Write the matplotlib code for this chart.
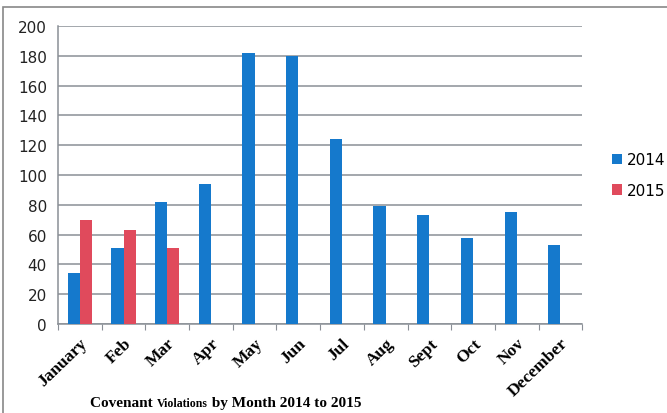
import numpy as np
import matplotlib
matplotlib.use('Agg')
import matplotlib.pyplot as plt
from matplotlib.patches import Rectangle

months = ['January', 'Feb', 'Mar', 'Apr', 'May', 'Jun', 'Jul', 'Aug',
          'Sept', 'Oct', 'Nov', 'December']
v2014 = [34, 51, 82, 94, 182, 180, 124, 79, 73, 58, 75, 53]
v2015 = [70, 63, 51]
yticks = [0, 20, 40, 60, 80, 100, 120, 140, 160, 180, 200]

blue = '#1579cc'
red = '#e04a5c'

fig = plt.figure(figsize=(6.67, 4.14), dpi=100)
ax = fig.add_axes([0.087, 0.215, 0.786, 0.72])

x = np.arange(len(months))
w = 0.28
ax.bar(x - w / 2, v2014, w, color=blue, label='2014', zorder=3)
ax.bar(x[:len(v2015)] + w / 2, v2015, w, color=red, label='2015', zorder=3)

ax.set_xlim(-0.5, len(months) - 0.5)
ax.set_ylim(0, 200)
ax.set_yticks(yticks)
ax.tick_params(axis='y', length=0, labelsize=11, pad=8, colors='#222222')
ax.yaxis.grid(True, color='#8a8f96', linewidth=1.1, zorder=0)

# ticks sit between categories, labels under each category
ax.set_xticks(np.arange(-0.5, len(months) + 0.5, 1))
ax.set_xticklabels([])
ax.set_xticks(x, minor=True)
ax.set_xticklabels(months, minor=True, rotation=44, ha='right',
                   rotation_mode='anchor', family='Liberation Serif',
                   fontweight='bold', fontsize=12.5)
ax.tick_params(axis='x', which='minor', length=0, pad=8)
ax.tick_params(axis='x', which='major', length=4, color='#8a8f96', direction='out')

for s in ['top', 'right']:
    ax.spines[s].set_visible(False)
for s in ['left', 'bottom']:
    ax.spines[s].set_color('#8a8f96')
    ax.spines[s].set_linewidth(1.1)

ax.legend(loc='center left', bbox_to_anchor=(1.03, 0.5), frameon=False,
          fontsize=11, handlelength=0.7, handleheight=0.7, handletextpad=0.3,
          labelspacing=1.0)

# outer frame of the scanned chart
fig.patches.append(Rectangle((0.005, -0.05), 1.1, 1.03, transform=fig.transFigure,
                             fill=False, edgecolor='#888888', linewidth=1.2))

# title with a smaller middle word
parts = [('Covenant ', 11), ('Violations', 8.5), (' by Month 2014 to 2015', 11)]
fig.canvas.draw()
r = fig.canvas.get_renderer()
xpos = 90 / 667
for txt, size in parts:
    t = fig.text(xpos, 0.018, txt, family='Liberation Serif', fontweight='bold',
                 fontsize=size, va='baseline', ha='left')
    bb = t.get_window_extent(renderer=r)
    xpos += bb.width / fig.bbox.width

fig.savefig('out.png', dpi=100)
